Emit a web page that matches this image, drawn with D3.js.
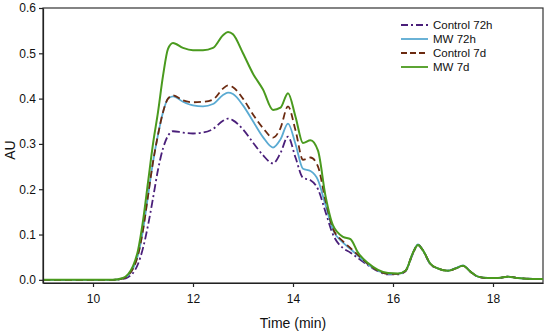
<!DOCTYPE html>
<html>
<head>
<meta charset="utf-8">
<script src="https://cdn.jsdelivr.net/npm/d3@7"></script>
<style>
    body { margin: 0; background: #fff; }
    text { font-family: "Liberation Sans", Arial, sans-serif; }
</style>
</head>
<body>
<svg id="chromatogram"></svg>
<script>
const CHART_WIDTH = 550;
const CHART_HEIGHT = 334;

const PADDING = {
    top: 8,
    bottom: 51,
    start: 43,
    end: 7
};

// elution time grid (min)
const TIMES = [9, 9.5, 10, 10.4, 10.6, 10.7, 10.8, 10.9, 11.0, 11.1, 11.2, 11.3, 11.4, 11.5, 11.6,
    11.8, 12.0, 12.2, 12.4, 12.6, 12.7, 12.8, 13.0, 13.2, 13.4, 13.6, 13.75, 13.9, 14.05, 14.2,
    14.35, 14.5, 14.65, 14.8, 15.0, 15.15, 15.3, 15.5, 15.7, 15.9, 16.1, 16.25, 16.4, 16.5, 16.6,
    16.75, 16.9, 17.1, 17.25, 17.4, 17.55, 17.7, 17.9, 18.1, 18.3, 18.5, 18.8, 19.0];

const CONTROL_72H = [0, 0, 0, 0, 0.002, 0.006, 0.015, 0.035, 0.07, 0.12, 0.18, 0.243, 0.29, 0.318, 0.328,
    0.325, 0.323, 0.325, 0.333, 0.351, 0.356, 0.352, 0.332, 0.303, 0.275, 0.257, 0.28, 0.316, 0.27, 0.225,
    0.22, 0.2, 0.15, 0.1, 0.07, 0.06, 0.048, 0.032, 0.019, 0.012, 0.012, 0.019, 0.058, 0.077, 0.064,
    0.034, 0.025, 0.02, 0.025, 0.031, 0.018, 0.007, 0.004, 0.004, 0.007, 0.004, 0.002, 0.002];

const MW_72H = [0, 0, 0, 0, 0.003, 0.01, 0.025, 0.055, 0.11, 0.185, 0.26, 0.32, 0.37, 0.4, 0.405,
    0.393, 0.385, 0.383, 0.388, 0.408, 0.413, 0.41, 0.385, 0.35, 0.315, 0.292, 0.31, 0.345, 0.3, 0.245,
    0.24, 0.22, 0.165, 0.11, 0.082, 0.068, 0.053, 0.034, 0.02, 0.013, 0.013, 0.02, 0.06, 0.078, 0.065,
    0.035, 0.025, 0.02, 0.026, 0.032, 0.018, 0.007, 0.004, 0.004, 0.007, 0.004, 0.002, 0.002];

const CONTROL_7D = [0, 0, 0, 0, 0.003, 0.01, 0.025, 0.055, 0.11, 0.185, 0.26, 0.32, 0.37, 0.4, 0.407,
    0.396, 0.392, 0.393, 0.398, 0.422, 0.429, 0.425, 0.4, 0.365, 0.335, 0.314, 0.335, 0.383, 0.33, 0.265,
    0.27, 0.25, 0.175, 0.113, 0.085, 0.07, 0.055, 0.035, 0.02, 0.013, 0.013, 0.02, 0.06, 0.077, 0.065,
    0.035, 0.025, 0.02, 0.025, 0.031, 0.018, 0.007, 0.004, 0.004, 0.007, 0.004, 0.002, 0.002];

const MW_7D = [0, 0, 0, 0, 0.004, 0.012, 0.03, 0.065, 0.13, 0.215, 0.3, 0.37, 0.45, 0.51, 0.523,
    0.512, 0.507, 0.507, 0.512, 0.54, 0.547, 0.542, 0.5, 0.455, 0.42, 0.375, 0.38, 0.412, 0.36, 0.302,
    0.308, 0.285, 0.185, 0.12, 0.095, 0.09, 0.06, 0.037, 0.022, 0.015, 0.014, 0.02, 0.06, 0.077, 0.065,
    0.035, 0.025, 0.02, 0.025, 0.031, 0.018, 0.007, 0.004, 0.004, 0.007, 0.004, 0.002, 0.002];

const SERIES = [
    { name: "Control 72h", values: CONTROL_72H, color: "#4a1f7a", dash: "8,3,2,3", width: 1.8 },
    { name: "MW 72h", values: MW_72H, color: "#5aaad2", dash: null, width: 1.8 },
    { name: "Control 7d", values: CONTROL_7D, color: "#6b2a10", dash: "7,4", width: 1.8 },
    { name: "MW 7d", values: MW_7D, color: "#4a9a1e", dash: null, width: 2 }
];

const Y_TICKS = [0, 0.1, 0.2, 0.3, 0.4, 0.5, 0.6];
const X_TICKS = [10, 12, 14, 16, 18];

let chart = d3.select("#chromatogram")
    .attr("width", CHART_WIDTH)
    .attr("height", CHART_HEIGHT);

let xScale = d3.scaleLinear()
    .domain([9, 19])
    .range([PADDING.start, CHART_WIDTH - PADDING.end]);

let yScale = d3.scaleLinear()
    .domain([-0.007, 0.6])
    .range([CHART_HEIGHT - PADDING.bottom, PADDING.top]);

// frame (top & right)
chart.append("rect")
    .attr("x", PADDING.start)
    .attr("y", PADDING.top)
    .attr("width", CHART_WIDTH - PADDING.start - PADDING.end)
    .attr("height", CHART_HEIGHT - PADDING.top - PADDING.bottom)
    .attr("fill", "none")
    .attr("stroke", "#333")
    .attr("stroke-width", 1.2);

let line = d3.line()
    .x((d, i) => xScale(TIMES[i]))
    .y(d => yScale(d))
    .curve(d3.curveMonotoneX);

chart.append("g")
    .selectAll("path")
    .data(SERIES)
    .enter()
    .append("path")
        .attr("d", s => line(s.values))
        .attr("fill", "none")
        .attr("stroke", s => s.color)
        .attr("stroke-width", s => s.width)
        .attr("stroke-dasharray", s => s.dash);

let xAxis = d3.axisBottom(xScale)
    .tickValues(X_TICKS)
    .tickSize(4)
    .tickSizeOuter(0)
    .tickFormat(d3.format("d"));
chart.append("g")
    .attr("transform", `translate(0, ${CHART_HEIGHT - PADDING.bottom})`)
    .call(xAxis)
    .call(g => g.selectAll("text").attr("font-size", 12).attr("fill", "#111").attr("dy", "1.1em"));

let yAxis = d3.axisLeft(yScale)
    .tickValues(Y_TICKS)
    .tickSize(4)
    .tickSizeOuter(0)
    .tickFormat(d3.format(".1f"));
chart.append("g")
    .attr("transform", `translate(${PADDING.start}, 0)`)
    .call(yAxis)
    .call(g => g.selectAll("text").attr("font-size", 12).attr("fill", "#111"));

chart.selectAll(".domain, .tick line").attr("stroke", "#222").attr("stroke-width", 1.2);

chart.append("text")
    .attr("transform", "rotate(-90)")
    .attr("x", -150)
    .attr("y", 15)
    .style("text-anchor", "middle")
    .attr("font-size", 14)
    .attr("fill", "#111")
    .text("AU");

chart.append("text")
    .attr("x", 293)
    .attr("y", 328)
    .style("text-anchor", "middle")
    .attr("font-size", 14)
    .attr("fill", "#111")
    .text("Time (min)");

// legend
let legend = chart.append("g")
    .attr("transform", "translate(401, 25)");

let legendItems = legend.selectAll("g")
    .data(SERIES)
    .enter()
    .append("g")
    .attr("transform", (s, i) => `translate(0, ${i * 14})`);

legendItems.append("line")
    .attr("x1", 0)
    .attr("x2", 27)
    .attr("stroke", s => s.color)
    .attr("stroke-width", 1.8)
    .attr("stroke-dasharray", s => s.dash === "7,4" ? "6,3" : (s.dash ? "7,3,2,3" : null));

legendItems.append("text")
    .attr("x", 32)
    .attr("dy", "0.35em")
    .attr("font-size", 11.5)
    .attr("fill", "#111")
    .text(s => s.name);
</script>
</body>
</html>
